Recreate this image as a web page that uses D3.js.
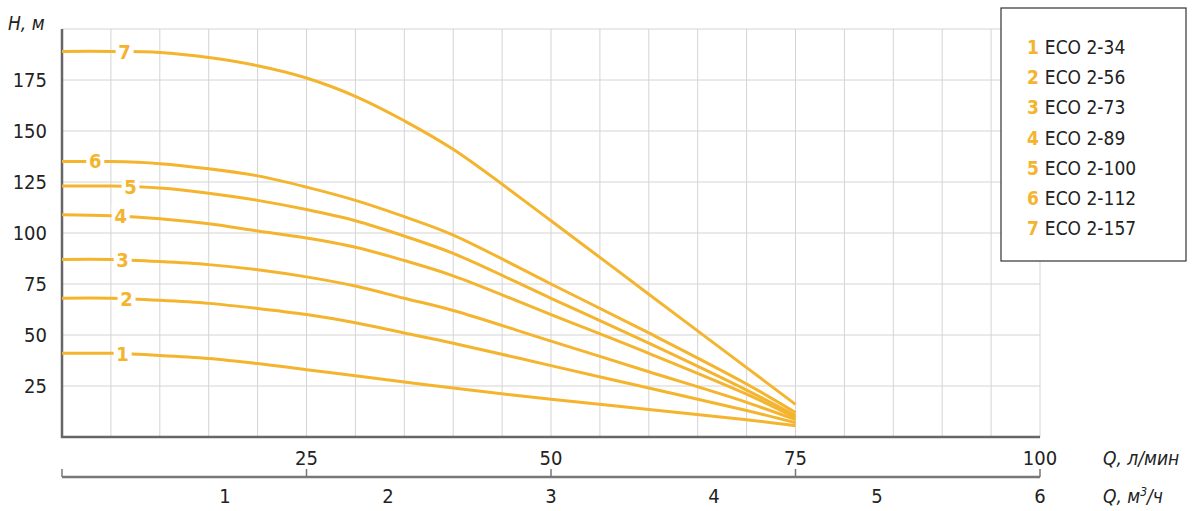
<!DOCTYPE html>
<html><head><meta charset="utf-8">
<script src="https://cdn.jsdelivr.net/npm/d3@7"></script>
<style>body{margin:0;background:#fff}text{font-family:"DejaVu Sans Condensed","Noto Sans",sans-serif}</style>
</head><body><svg id="c" width="1200" height="511"></svg>
<script>
const flowQ = [0, 5, 10, 15, 20, 25, 30, 35, 40, 50, 60, 70, 75];
const series = [
  {id:"1", name:"ECO 2-34",  h:[41,41,40,38.5,36,33,30,27,24,18.5,13.5,8.5,5.5], lx:6.2},
  {id:"2", name:"ECO 2-56",  h:[68,68,67,65.5,63,60,56,51,46,35,24,13,7], lx:6.6},
  {id:"3", name:"ECO 2-73",  h:[87,87,86,84.5,82,78.5,74,68,62,47,32,17,8.5], lx:6.2},
  {id:"4", name:"ECO 2-89",  h:[109,108.5,107,104.5,101,97.5,93,86.5,79,60,41,21,9.5], lx:6.0},
  {id:"5", name:"ECO 2-100", h:[123,123,122,119.5,116,111.5,106,98.5,90,68,46,23,10.5], lx:7.0},
  {id:"6", name:"ECO 2-112", h:[135,135,134,131.5,128,122.5,116,108,99,75,51,26,12], lx:3.4},
  {id:"7", name:"ECO 2-157", h:[189,189,188.5,186,182,176,167,155,141,106,70,34,16], lx:6.4}
];
const yTicks = [25,50,75,100,125,150,175];
const xTicksL = [25,50,75,100];
const xTicksM3 = [1,2,3,4,5,6];
const col = "#f4b42e";

const svg = d3.select("#c");
const x = d3.scaleLinear().domain([0,100]).range([62,1040]);
const y = d3.scaleLinear().domain([0,200]).range([437,29]);
const xm = d3.scaleLinear().domain([0,6]).range([62,1040]);

const g = svg.append("g");
g.selectAll(".vg").data(d3.range(5,101,5)).join("line")
 .attr("x1",d=>x(d)).attr("x2",d=>x(d)).attr("y1",y(200)).attr("y2",y(0))
 .attr("stroke","#d4d4d4").attr("stroke-width",1);
g.selectAll(".hg").data(yTicks.concat([200])).join("line")
 .attr("x1",x(0)).attr("x2",x(100)).attr("y1",d=>y(d)).attr("y2",d=>y(d))
 .attr("stroke","#d4d4d4").attr("stroke-width",1);
g.append("line").attr("x1",62).attr("x2",62).attr("y1",y(200)).attr("y2",y(0)+1).attr("stroke","#666").attr("stroke-width",2.5);
g.append("line").attr("x1",61).attr("x2",x(100)).attr("y1",y(0)).attr("y2",y(0)).attr("stroke","#666").attr("stroke-width",2.5);
g.selectAll(".yl").data(yTicks).join("text").attr("x",47).attr("y",d=>y(d)+7)
 .attr("text-anchor","end").attr("font-size",20).attr("fill","#222").text(d=>d);
svg.append("text").attr("x",8).attr("y",30).attr("font-size",19).attr("font-style","italic").attr("fill","#222").text("H, м");
const ax2y = 477;
g.append("line").attr("x1",62).attr("x2",x(100)).attr("y1",ax2y).attr("y2",ax2y).attr("stroke","#777").attr("stroke-width",2.5);
g.selectAll(".t2").data([0].concat(xTicksL)).join("line").attr("x1",d=>x(d)).attr("x2",d=>x(d))
 .attr("y1",ax2y).attr("y2",ax2y-8).attr("stroke","#777").attr("stroke-width",1.5);
g.selectAll(".xl").data(xTicksL).join("text").attr("x",d=>x(d)).attr("y",465)
 .attr("text-anchor","middle").attr("font-size",20).attr("fill","#222").text(d=>d);
g.selectAll(".xm").data(xTicksM3).join("text").attr("x",d=>xm(d)).attr("y",503)
 .attr("text-anchor","middle").attr("font-size",20).attr("fill","#222").text(d=>d);
svg.append("text").attr("x",1103).attr("y",465).attr("font-size",19).attr("font-style","italic").attr("fill","#222").text("Q, л/мин");
const t = svg.append("text").attr("x",1103).attr("y",503).attr("font-size",19).attr("font-style","italic").attr("fill","#222");
t.append("tspan").text("Q, м");
t.append("tspan").attr("dy",-7).attr("font-size",12).text("3");
t.append("tspan").attr("dy",7).text("/ч");

const line = d3.line().x((d,i)=>x(flowQ[i])).y(d=>y(d)).curve(d3.curveCatmullRom.alpha(0.5));
series.forEach(s=>{
  g.append("path").attr("d",line(s.h)).attr("fill","none").attr("stroke",col).attr("stroke-width",3);
  const hy = s.h[1] + (s.h[2]-s.h[1])*((s.lx-5)/5);
  g.append("rect").attr("x",x(s.lx)-9).attr("y",y(hy)-11).attr("width",18).attr("height",22).attr("fill","#fff");
  g.append("text").attr("x",x(s.lx)).attr("y",y(hy)+7).attr("text-anchor","middle")
   .attr("font-size",20).attr("font-weight","bold").attr("fill",col).text(s.id);
});

const lg = svg.append("g");
lg.append("rect").attr("x",1001).attr("y",8).attr("width",185).attr("height",253).attr("fill","#fff").attr("stroke","#333").attr("stroke-width",1.2);
series.forEach((s,i)=>{
  const tt = lg.append("text").attr("x",1027).attr("y",54+i*30.2).attr("font-size",19);
  tt.append("tspan").attr("fill",col).attr("font-weight","bold").text(s.id+" ");
  tt.append("tspan").attr("fill","#222").text(s.name);
});
</script></body></html>
